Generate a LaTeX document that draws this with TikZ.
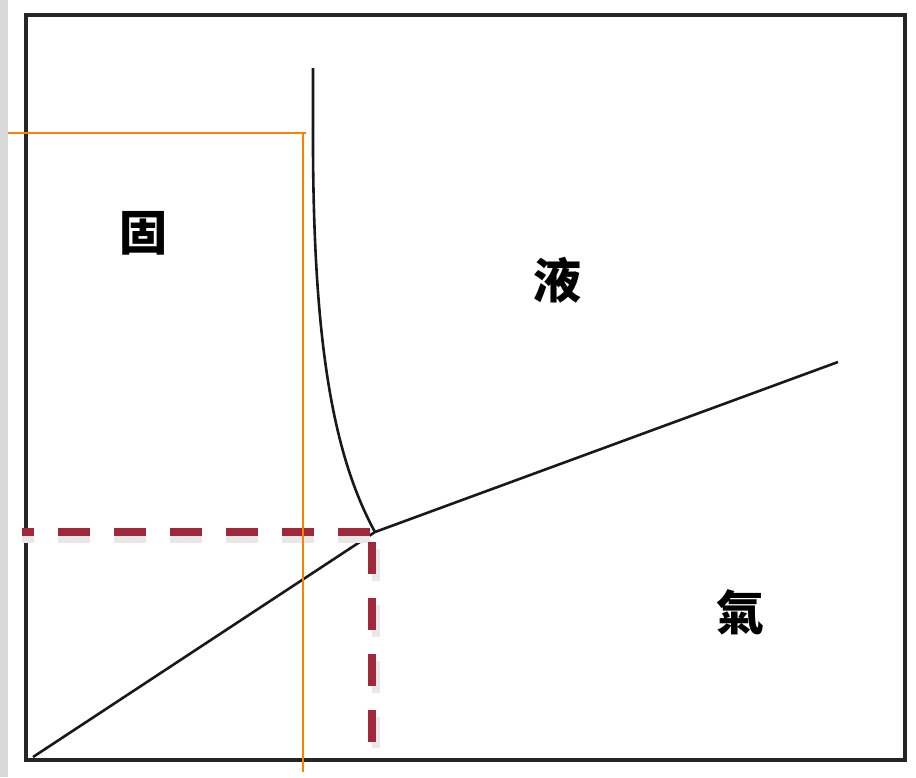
\documentclass[tikz,border=0pt]{standalone}
\usepackage{fontspec}
\newfontfamily\cjk{Noto Sans CJK TC}
\usetikzlibrary{calc}
\definecolor{dashred}{RGB}{160,40,58}
\definecolor{guideorange}{RGB}{255,128,0}
\tikzset{
	phase/.style={font=\cjk\bfseries\fontsize{48}{48}\selectfont},
	boundary/.style={line width=2.6pt, black!90},
	guide/.style={line width=8pt, color=dashred, dash pattern=on 32pt off 24pt},
	guideshadow/.style={line width=8pt, color=black!9, dash pattern=on 32pt off 24pt}
}

\begin{document}
\begin{tikzpicture}[x=1pt, y=-1pt]
			%%%%% START %%%%%
			\useasboundingbox (0, 0) rectangle (916, 777);
			\fill[black!15] (0, 0) rectangle (8, 777);
			
			\draw[line width=4.5pt, color=black!85] (26, 15) rectangle (905, 760);
			
			\coordinate (origin) at (33, 757);
			\coordinate (tp) at (375, 532);
			\coordinate (vapend) at (838, 362);
			\coordinate (fustop) at (313, 68);
			
			\draw[boundary] (origin) -- (tp);
			\draw[boundary] (tp) -- (vapend);
			\draw[boundary] (fustop) -- (313, 150) .. controls (314, 330) and (330, 450) .. (tp);
			
			\draw[guideshadow] (370, 539) -- (22, 539);
			\draw[guideshadow] (376, 549) -- (376, 748);
			\draw[guide] (370, 532) -- (22, 532);
			\draw[guide] (372, 542) -- (372, 745);
			
			\draw[line width=1.4pt, color=guideorange] (8, 133) -- (306, 133);
			\draw[line width=1.4pt, color=guideorange] (303, 133) -- (303, 772);
			
			\node[phase] (solid) at (143, 233) {固};
			\node[phase] (liquid) at (557, 280) {液};
			\node[phase] (gas) at (740, 612) {氣};
			%%%%% END %%%%%
\end{tikzpicture}
\end{document}
